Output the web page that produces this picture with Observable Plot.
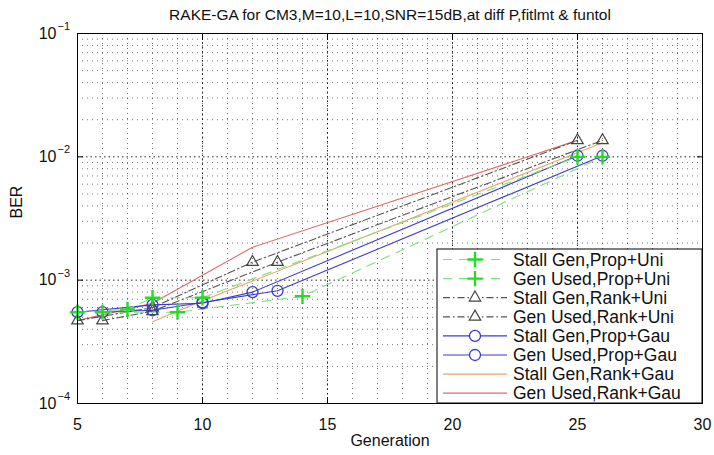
<!DOCTYPE html>
<html><head><meta charset="utf-8">
<script src="https://cdn.jsdelivr.net/npm/d3@7"></script>
<script src="https://cdn.jsdelivr.net/npm/@observablehq/plot@0.6"></script>
<style>
body{margin:0;background:#fff}
svg{font-family:"Liberation Sans",Arial,Helvetica,sans-serif}
</style>
</head><body><div id="chart"></div>
<script>
// ---- data ----
const titleText = "RAKE-GA for CM3,M=10,L=10,SNR=15dB,at diff P,fitlmt & funtol";
const xLabel = "Generation";
const yLabel = "BER";
const xTicks = [5, 10, 15, 20, 25, 30];
const yTicks = [1e-4, 1e-3, 1e-2, 1e-1];
const xMinor = d3.range(5, 31, 1);
const yMinor = [1e-4, 1e-3, 1e-2].flatMap(b => [2,3,4,5,6,7,8,9].map(m => m * b));

const seriesNames = [
  "Stall Gen,Prop+Uni", "Gen Used,Prop+Uni",
  "Stall Gen,Rank+Uni", "Gen Used,Rank+Uni",
  "Stall Gen,Prop+Gau", "Gen Used,Prop+Gau",
  "Stall Gen,Rank+Gau", "Gen Used,Rank+Gau"
];
const stallPropUniGen = [5, 7, 8, 10, 25];
const stallPropUniBer = [5.5e-4, 5.8e-4, 7.2e-4, 7.2e-4, 1.0e-2];
const usedPropUniGen = [6, 9, 14, 26];
const usedPropUniBer = [5.5e-4, 5.5e-4, 7.4e-4, 1.0e-2];
const stallRankUniGen = [5, 8, 12, 25];
const stallRankUniBer = [4.7e-4, 6.0e-4, 1.4e-3, 1.36e-2];
const usedRankUniGen = [6, 8, 13, 26];
const usedRankUniBer = [4.7e-4, 5.6e-4, 1.4e-3, 1.36e-2];
const stallPropGauGen = [5, 8, 10, 12, 25];
const stallPropGauBer = [5.5e-4, 6.3e-4, 6.5e-4, 8.0e-4, 1.02e-2];
const usedPropGauGen = [6, 8, 10, 13, 26];
const usedPropGauBer = [5.5e-4, 5.7e-4, 6.6e-4, 8.2e-4, 1.02e-2];
const stallRankGauGen = [8, 10, 26];
const stallRankGauBer = [4.6e-4, 6.8e-4, 1.3e-2];
const usedRankGauGen = [5, 8, 12, 25];
const usedRankGauBer = [4.7e-4, 6.5e-4, 1.85e-3, 1.36e-2];

const gens = [stallPropUniGen, usedPropUniGen, stallRankUniGen, usedRankUniGen,
              stallPropGauGen, usedPropGauGen, stallRankGauGen, usedRankGauGen];
const bers = [stallPropUniBer, usedPropUniBer, stallRankUniBer, usedRankUniBer,
              stallPropGauBer, usedPropGauBer, stallRankGauBer, usedRankGauBer];

// ---- styles ----
const styles = [
  {line: "#7ee07e", dash: "9,7", mark: "#22dd22", symbol: "plus", sw: 2.4},
  {line: "#7ee07e", dash: "9,7", mark: "#22dd22", symbol: "plus", sw: 2.4},
  {line: "#555", dash: "7,3,1.5,3", mark: "#444", symbol: "triangle2", sw: 1.2},
  {line: "#555", dash: "7,3,1.5,3", mark: "#444", symbol: "triangle2", sw: 1.2},
  {line: "#3b3bd0", dash: null, mark: "#3b3bd0", symbol: "circle", sw: 1.3},
  {line: "#3b3bd0", dash: null, mark: "#3b3bd0", symbol: "circle", sw: 1.3},
  {line: "#e8a468", dash: null, mark: null, symbol: null, sw: 1},
  {line: "#e06a6a", dash: null, mark: null, symbol: null, sw: 1}
];

const series = seriesNames.map((name, i) => ({
  name, style: styles[i],
  data: gens[i].map((g, j) => ({gen: g, ber: bers[i][j]}))
}));

const W = 714, H = 455;
const gridStyle = {stroke: "#000", strokeOpacity: 0.6, strokeWidth: 0.9, strokeDasharray: "1,4"};
const majorGrid = {stroke: "#000", strokeOpacity: 0.85, strokeWidth: 1, strokeDasharray: "1.5,3"};

const marks = [
  Plot.ruleX(xMinor, {x: d => d, ...gridStyle}),
  Plot.ruleY(yMinor, {y: d => d, ...gridStyle}),
  Plot.ruleX(xTicks, {x: d => d, ...majorGrid}),
  Plot.ruleY(yTicks, {y: d => d, ...majorGrid})
];
const order = [6, 7, 2, 3, 4, 5, 0, 1];
for (const i of order) {
  const s = series[i];
  marks.push(Plot.line(s.data, {x: "gen", y: "ber", stroke: s.style.line,
    strokeWidth: 1.1, strokeDasharray: s.style.dash || undefined}));
}
for (const i of [2, 3, 4, 5, 0, 1]) {
  const s = series[i];
  marks.push(Plot.dot(s.data, {x: "gen", y: "ber", symbol: s.style.symbol,
    r: s.style.symbol === "plus" ? 5 : 5.5, stroke: s.style.mark, fill: "none",
    strokeWidth: s.style.sw}));
}
marks.push(
  Plot.frame({stroke: "#000", strokeWidth: 1}),
  Plot.axisX(xTicks, {anchor: "bottom", tickSize: -6, tickFormat: () => "", label: null, stroke: "#000"}),
  Plot.axisX(xTicks, {anchor: "top", tickSize: -6, tickFormat: () => "", label: null, stroke: "#000"}),
  Plot.axisY(yTicks, {anchor: "left", tickSize: -6, tickFormat: () => "", label: null, stroke: "#000"}),
  Plot.axisY(yTicks, {anchor: "right", tickSize: -6, tickFormat: () => "", label: null, stroke: "#000"}),
  Plot.text(xTicks, {x: d => d, frameAnchor: "bottom", dy: 21, lineAnchor: "middle",
    text: d => String(d), fontSize: 16, fill: "#111"}),
  Plot.text(yTicks, {y: d => d, frameAnchor: "left", dx: -21, textAnchor: "end",
    lineAnchor: "middle", text: () => "10", fontSize: 16, fill: "#111"}),
  Plot.text(yTicks, {y: d => d, frameAnchor: "left", dx: -20, dy: -7, textAnchor: "start",
    lineAnchor: "middle", text: d => "\u2212" + Math.round(-Math.log10(d)), fontSize: 11, fill: "#111"}),
  Plot.text([xLabel], {frameAnchor: "bottom", dy: 37, lineAnchor: "middle", text: d => d,
    fontSize: 16, fill: "#111"}),
  Plot.text([yLabel], {frameAnchor: "left", dx: -61, rotate: -90, lineAnchor: "middle",
    text: d => d, fontSize: 16, fill: "#111"}),
  Plot.text([titleText], {frameAnchor: "top", dy: -18, lineAnchor: "middle", text: d => d,
    fontSize: 15.5, fill: "#111"})
);

const chart = Plot.plot({
  width: W, height: H,
  marginLeft: 77, marginRight: 12, marginTop: 33, marginBottom: 52,
  style: {background: "#fff", fontFamily: "Liberation Sans, Arial, sans-serif"},
  x: {domain: [5, 30], label: null},
  y: {type: "log", domain: [1e-4, 1e-1], label: null},
  marks
});
document.getElementById("chart").appendChild(chart);

// ---- legend (inside plot, lower right) ----
const svg = d3.select(chart);
const lg = svg.append("g").attr("transform", "translate(437,249)");
lg.append("rect").attr("width", 265).attr("height", 154)
  .attr("fill", "#fff").attr("stroke", "#000").attr("stroke-width", 1);
const symMap = {plus: d3.symbolPlus, triangle2: d3.symbolTriangle2, circle: d3.symbolCircle};
series.forEach((s, i) => {
  const y = 10.5 + i * 19.1;
  const row = lg.append("g").attr("transform", `translate(0,${y})`);
  row.append("line").attr("x1", 6).attr("x2", 70).attr("y1", 0).attr("y2", 0)
    .attr("stroke", s.style.line).attr("stroke-width", 1.2)
    .attr("stroke-dasharray", s.style.dash || null);
  if (s.style.symbol) {
    const r = s.style.symbol === "plus" ? 5 : 5.5;
    row.append("path").attr("transform", "translate(38,0)")
      .attr("d", d3.symbol(symMap[s.style.symbol], Math.PI * r * r)())
      .attr("fill", s.style.symbol === "plus" ? "none" : "#fff")
      .attr("stroke", s.style.mark).attr("stroke-width", s.style.sw);
  }
  row.append("text").attr("x", 76).attr("y", 0).attr("dy", "0.35em")
    .attr("text-anchor", "start")
    .attr("font-size", 17.5).attr("fill", "#111").text(s.name);
});
</script>
</body></html>
